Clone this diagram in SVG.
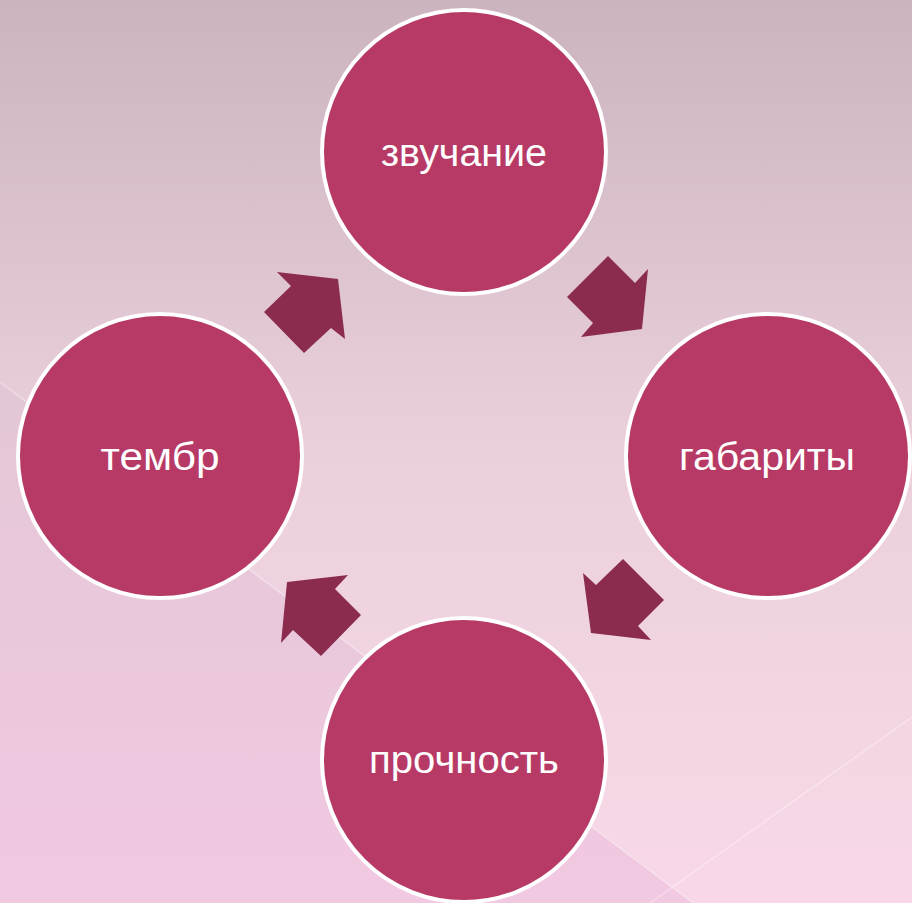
<svg xmlns="http://www.w3.org/2000/svg" width="912" height="903" viewBox="0 0 912 903">
<defs>
<linearGradient id="bg" x1="0" y1="0" x2="0" y2="1">
<stop offset="0" stop-color="#CBB3C0"/>
<stop offset="0.5" stop-color="#EBD0DC"/>
<stop offset="1" stop-color="#F8D8E8"/>
</linearGradient>
<linearGradient id="bg2" x1="0" y1="0" x2="0" y2="1">
<stop offset="0" stop-color="#E2C6D6"/>
<stop offset="1" stop-color="#F0C6E0"/>
</linearGradient>
<style>
.node circle{fill:#B73A66;stroke:#FFFFFF;stroke-width:4}
.node text{fill:#FFFFFF;font-family:"Liberation Sans",Arial,sans-serif;font-size:38px;text-anchor:middle}
.arrow{fill:#8B2C4E}
.bgline{stroke:#FFFFFF;stroke-opacity:0.35;stroke-width:1.5;fill:none}
</style>
</defs>
<rect width="912" height="903" fill="url(#bg)"/>
<polygon points="0,382 693,903 0,903" fill="url(#bg2)" opacity="0.85"/>
<line class="bgline" x1="0" y1="382" x2="693" y2="903"/>
<line class="bgline" x1="650" y1="903" x2="912" y2="717"/>
<g id="connectors">
<polygon class="arrow" points="608,256 635,283 648,269 642,329 581,337 593,323 567,297"/>
<polygon class="arrow" points="583,573 596,585 623,559 664,600 638,626 651,640 591,633"/>
<polygon class="arrow" points="348,575 335,589 361,615 321,656 293,630 281,643 287,582"/>
<polygon class="arrow" points="277,272 338,279 345,339 331,328 304,353 264,312 291,286"/>
</g>
<g id="node-zvuchanie" class="node">
<circle cx="464" cy="152" r="142"/>
<text x="464" y="166" textLength="166" lengthAdjust="spacingAndGlyphs">звучание</text>
</g>
<g id="node-gabarity" class="node">
<circle cx="768" cy="456" r="142"/>
<text x="767" y="470" textLength="176" lengthAdjust="spacingAndGlyphs">габариты</text>
</g>
<g id="node-prochnost" class="node">
<circle cx="464" cy="760" r="142"/>
<text x="464" y="773" textLength="190" lengthAdjust="spacingAndGlyphs">прочность</text>
</g>
<g id="node-tembr" class="node">
<circle cx="160" cy="456" r="142"/>
<text x="160" y="470" textLength="119" lengthAdjust="spacingAndGlyphs">тембр</text>
</g>
</svg>
